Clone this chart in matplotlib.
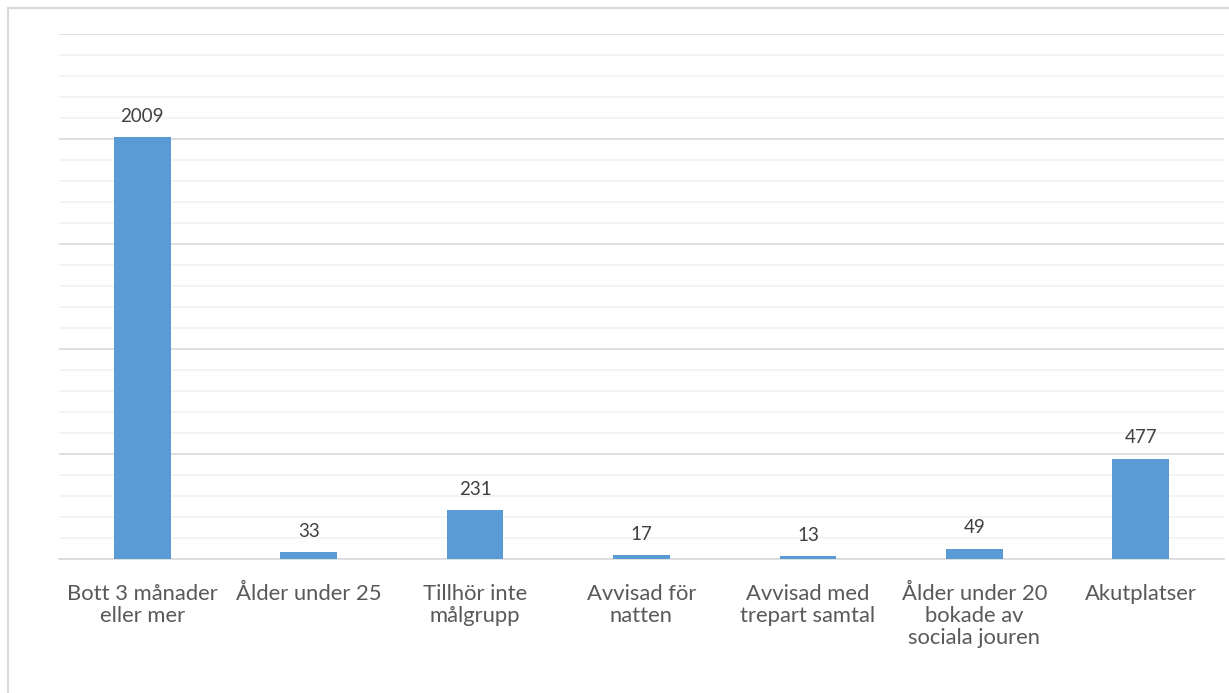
import matplotlib.pyplot as plt
from matplotlib.patches import Rectangle
from matplotlib.ticker import MultipleLocator

categories = ["Bott 3 månader\neller mer", "Ålder under 25", "Tillhör inte\nmålgrupp",
              "Avvisad för\nnatten", "Avvisad med\ntrepart samtal",
              "Ålder under 20\nbokade av\nsociala jouren", "Akutplatser"]
values = [2009, 33, 231, 17, 13, 49, 477]

plt.rcParams['font.family'] = ['Lato', 'DejaVu Sans']

fig = plt.figure(figsize=(12.29, 6.93), dpi=100, facecolor="w")
W, H = 1229, 693
ax = fig.add_axes([59 / W, 1 - 559 / H, (1224 - 59) / W, (559 - 34) / H])

# outer chart frame
fig.patches.append(Rectangle((8 / W, -0.01), 1.02, 1 - 8 / H + 0.01, transform=fig.transFigure,
                             fill=False, edgecolor="#d9d9d9", linewidth=1.5))

x = range(len(categories))
bars = ax.bar(x, values, width=0.34, color="#5b9bd5", zorder=3)
for xi, v in zip(x, values):
    ax.annotate(str(v), (xi, v), xytext=(0, 9), textcoords="offset points",
                ha="center", va="bottom", fontsize=13.5, color="#404040")

ax.set_xlim(-0.5, len(categories) - 0.5)
ax.set_ylim(0, 2500)
ax.yaxis.set_major_locator(MultipleLocator(500))
ax.yaxis.set_minor_locator(MultipleLocator(100))
ax.grid(axis="y", which="major", color="#d9d9d9", linewidth=1.2, zorder=0)
ax.grid(axis="y", which="minor", color="#f2f2f2", linewidth=1.2, zorder=0)
ax.tick_params(axis="y", which="both", left=False, labelleft=False)
ax.set_xticks(list(x))
ax.set_xticklabels(categories, fontsize=15.8, color="#595959", linespacing=1.12)
ax.tick_params(axis="x", length=0, pad=18)
for s in ["top", "left", "right"]:
    ax.spines[s].set_visible(False)
ax.spines["bottom"].set_color("#d9d9d9")
ax.spines["bottom"].set_linewidth(1.2)

fig.savefig("out.png", dpi=100)
